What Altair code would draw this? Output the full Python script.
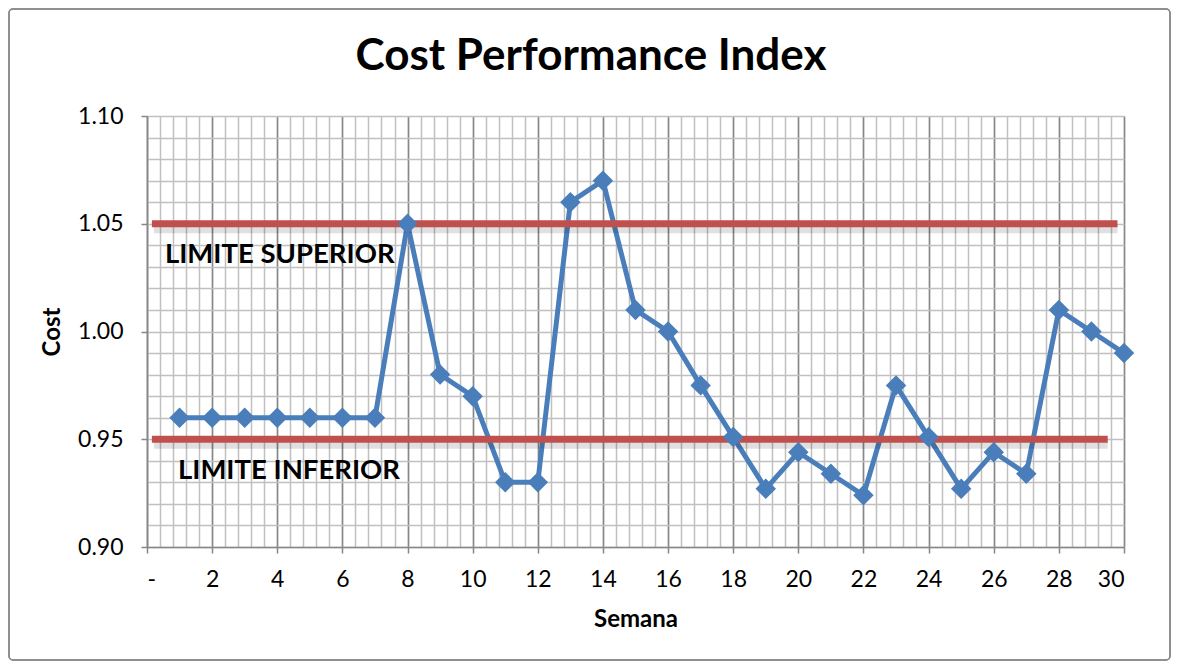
import altair as alt
import pandas as pd

title_text = ["Cost Performance Index"]

semana = list(range(1, 31))
cpi = [0.96, 0.96, 0.96, 0.96, 0.96, 0.96, 0.96, 1.05, 0.98, 0.97,
       0.93, 0.93, 1.06, 1.07, 1.01, 1.00, 0.975, 0.951, 0.927, 0.944,
       0.934, 0.924, 0.975, 0.951, 0.927, 0.944, 0.934, 1.01, 1.00, 0.99]

limit_names = ["LIMITE SUPERIOR", "LIMITE INFERIOR"]
limit_values = [1.05, 0.95]
limit_start = [0.15, 0.15]
limit_end = [29.8, 29.5]
label_x = [0.55, 0.95]
label_y = [1.0355, 0.9353]

x_major = list(range(0, 31, 2))
x_minor = [round(i * 0.4, 2) for i in range(0, 76)]
y_major = [0.90, 0.95, 1.00, 1.05, 1.10]
y_minor = [round(0.90 + i * 0.01, 2) for i in range(0, 21)]

df = pd.DataFrame({"Semana": semana, "Cost": cpi})
lim = pd.DataFrame({"name": limit_names, "v": limit_values, "x0": limit_start, "x1": limit_end,
                    "lx": label_x, "ly": label_y})
tdf = pd.DataFrame({"t": title_text})

FONT = "Lato"
xs = alt.Scale(domain=[0, 30], nice=False, zero=False)
ys = alt.Scale(domain=[0.90, 1.10], nice=False, zero=False)

minor = alt.Chart(df).mark_point(opacity=0).encode(
    x=alt.X("Semana:Q", scale=xs, axis=alt.Axis(orient="top", values=x_minor, grid=True,
            gridColor="#C0C0C0", gridWidth=1.5, labels=False, ticks=False, domain=False, title=None)),
    y=alt.Y("Cost:Q", scale=ys, axis=alt.Axis(orient="right", values=y_minor, grid=True,
            gridColor="#C0C0C0", gridWidth=1.5, labels=False, ticks=False, domain=False, title=None)),
)

base_line = alt.Chart(df).mark_line(color="#4A7EBB", strokeWidth=5).encode(
    x=alt.X("Semana:Q", scale=xs, title="Semana",
            axis=alt.Axis(orient="bottom", values=x_major, grid=True, gridColor="#878787", gridWidth=1.5,
                          labelExpr="datum.value == 0 ? '-' : datum.label",
                          tickColor="#878787", tickSize=6, tickWidth=1.5, domainColor="#878787", domainWidth=1.5,
                          labelFontSize=23, labelFont=FONT, labelColor="#000000", labelPadding=15,
                          titleFontSize=24, titleFont=FONT, titleFontWeight="bold", titleColor="#000000",
                          titlePadding=16)),
    y=alt.Y("Cost:Q", scale=ys, title="Cost",
            axis=alt.Axis(orient="left", values=y_major, format=".2f", grid=False,
                          tickColor="#878787", tickSize=6, tickWidth=1.5, domainColor="#878787", domainWidth=1.5,
                          labelFontSize=23, labelFont=FONT, labelColor="#000000", labelPadding=18,
                          titleFontSize=24, titleFont=FONT, titleFontWeight="bold", titleColor="#000000",
                          titlePadding=13)),
)

points = alt.Chart(df).mark_point(shape="diamond", filled=True, color="#4A7EBB", size=420, opacity=1).encode(
    x=alt.X("Semana:Q", scale=xs, axis=None), y=alt.Y("Cost:Q", scale=ys, axis=None))

shadow = alt.Chart(lim).mark_rule(color="#000000", opacity=0.12, strokeWidth=9, yOffset=5, xOffset=2).encode(
    x=alt.X("x0:Q", scale=xs, axis=None), x2="x1:Q", y=alt.Y("v:Q", scale=ys, axis=None))
rules = alt.Chart(lim).mark_rule(color="#C0504D", strokeWidth=7).encode(
    x=alt.X("x0:Q", scale=xs, axis=None), x2="x1:Q", y=alt.Y("v:Q", scale=ys, axis=None))

labels = alt.Chart(lim).mark_text(align="left", baseline="middle", font=FONT, fontSize=27.5,
                                  fontWeight="bold", color="#000000").encode(
    x=alt.X("lx:Q", scale=xs, axis=None), y=alt.Y("ly:Q", scale=ys, axis=None), text="name:N")

title = alt.Chart(tdf).mark_text(align="center", baseline="alphabetic", font=FONT, fontSize=44,
                                 fontWeight="bold", color="#000000").encode(
    x=alt.value(444), y=alt.value(-46), text="t:N")

border = alt.Chart(lim).mark_rect(fill=None, stroke="#888888", strokeWidth=1.5, cornerRadius=4).encode(
    x=alt.value(-138), x2=alt.value(1023), y=alt.value(-107), y2=alt.value(544))

chart = alt.layer(minor, base_line, shadow, rules, points, labels, title, border).resolve_axis(
    x="independent", y="independent"
).properties(
    width=977, height=431,
    padding={"left": 139, "top": 108, "right": 47, "bottom": 114},
    autosize=alt.AutoSizeParams(type="none"),
).configure_view(stroke=None).configure(background="white")

chart.save("out.html", embed_options={"renderer": "svg", "actions": False})
